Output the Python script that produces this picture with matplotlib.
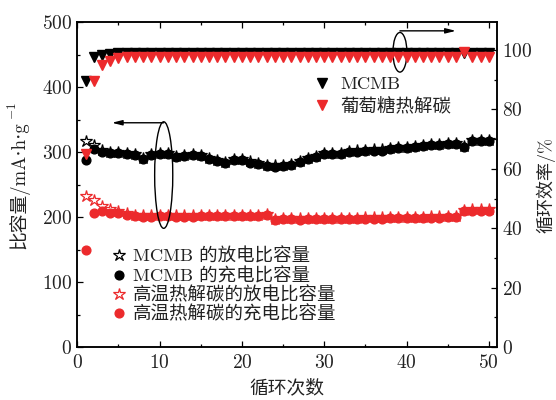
import matplotlib
matplotlib.use("Agg")
import matplotlib.pyplot as plt
from matplotlib.patches import Ellipse
from matplotlib.lines import Line2D
from matplotlib.ticker import MultipleLocator

plt.rcParams['font.family'] = ['cmr10', 'DejaVu Serif', 'Noto Sans CJK SC']
plt.rcParams['mathtext.fontset'] = 'cm'
plt.rcParams['axes.formatter.use_mathtext'] = True

cycles = list(range(1, 51))

mcmb_charge = [288, 305, 301, 298.5, 298.5, 297.4, 295.4, 290.3, 296.4, 297.4,
               297.4, 293.3, 294.4, 295.4, 294.4, 290.3, 286.2, 283.1, 288.2, 288.2,
               284.1, 282.1, 279, 278, 279, 280, 285.1, 289.2, 293.3, 297.4,
               297.4, 297.4, 300, 301, 302, 302.6, 302.6, 304.6, 306.7, 306.7,
               307.7, 309.7, 311.3, 311.3, 312.3, 312.8, 307.7, 316.9, 316.9, 317.9]
mcmb_discharge = [317, 311, 303, 300, 300, 299, 297, 292, 298, 299,
                  299, 295, 296, 297, 296, 292, 288, 285, 290, 290,
                  286, 284, 281, 280, 281, 282, 287, 291, 295, 299,
                  299, 299, 302, 303, 304, 304.5, 304.5, 306.5, 308.5, 308.5,
                  309.5, 311.5, 313, 313, 314, 314.5, 309.5, 318.5, 318.5, 319.5]
glu_charge = [149, 207.2, 210.3, 207.2, 206.2, 204.1, 202.1, 201, 201, 202.1,
              202.1, 201, 201, 201, 202.1, 202, 202, 202, 202, 202,
              202, 202, 203, 195.9, 196.9, 196.9, 196.5, 196.9, 196.9, 196.9,
              197, 197, 197.5, 197.5, 198, 198, 198, 198.5, 198.5, 199,
              199, 199, 199.5, 199.5, 200, 200, 210.3, 209.2, 209.2, 210.3]
glu_discharge = [232, 227, 218, 213, 210, 207, 204, 203, 203, 204,
                 204, 203, 203, 203, 204, 204, 204, 204, 204, 204,
                 204, 204, 205, 198, 199, 199, 198.5, 199, 199, 199,
                 199, 199, 199.5, 199.5, 200, 200, 200, 200.5, 200.5, 201,
                 201, 201, 201.5, 201.5, 202, 202, 211, 212, 212, 213]
mcmb_eff = [89.6, 97.6, 98.2, 98.6] + [99.0] * 46
glu_eff = [65, 89.6, 95.0, 96.4, 97.2] + [97.6] * 41 + [99.2, 97.6, 97.6, 97.6]

red = '#ec2a2c'
fig = plt.figure(figsize=(5.56, 4.0), dpi=100)
ax = fig.add_axes([0.139, 0.132, 0.755, 0.812])
ax2 = ax.twinx()

# capacities
ax.plot(cycles, mcmb_discharge, ls='none', marker='*', ms=9, mfc='white', mec='black', mew=0.9, zorder=3)
ax.plot(cycles, mcmb_charge, ls='none', marker='o', ms=6.3, color='black', zorder=4)
ax.plot(cycles, glu_discharge, ls='none', marker='*', ms=9, mfc='white', mec=red, mew=0.9, zorder=3)
ax.plot(cycles, glu_charge, ls='none', marker='o', ms=6.3, color=red, zorder=4)

# efficiencies
ax2.plot(cycles, mcmb_eff, ls='none', marker='v', ms=7.5, color='black')
ax2.plot(cycles, glu_eff, ls='none', marker='v', ms=7.5, color=red)

ax.set_xlim(0, 51)
ax.set_ylim(0, 500)
ax2.set_ylim(0, 109.3)

ax.xaxis.set_major_locator(MultipleLocator(10))
ax.xaxis.set_minor_locator(MultipleLocator(5))
ax.yaxis.set_major_locator(MultipleLocator(100))
ax.yaxis.set_minor_locator(MultipleLocator(50))
ax2.yaxis.set_major_locator(MultipleLocator(20))
ax2.yaxis.set_minor_locator(MultipleLocator(10))

tc = '#222222'
ax.tick_params(which='both', direction='in', top=True, labelsize=14, labelcolor=tc)
ax.tick_params(which='major', length=4.5, width=0.9)
ax.tick_params(which='minor', length=2.5, width=0.9)
ax.tick_params(axis='x', pad=5)
ax2.tick_params(which='both', direction='in', labelsize=14, labelcolor=tc)
ax2.tick_params(which='major', length=4.5, width=0.9)
ax2.tick_params(which='minor', length=2.5, width=0.9)
for a in (ax, ax2):
    for s in a.spines.values():
        s.set_linewidth(1.1)

ax.set_xlabel('循环次数', fontsize=13.5, color=tc, labelpad=5)
lab = ax.set_ylabel('比容量/mA\u22c5h\u22c5g', fontsize=13.5, color=tc, labelpad=9,
                    family=['cmr10', 'DejaVu Serif', 'Noto Sans CJK SC'])
ax.annotate('$-1$', xy=(0.5, 1.0), xycoords=lab, xytext=(-4.5, 0.5), textcoords='offset points',
            rotation=90, ha='center', va='bottom', fontsize=9.5, color=tc, annotation_clip=False)
ax2.set_ylabel('循环效率/%', fontsize=13, color=tc, labelpad=3)

# ellipses and arrows
ax.add_patch(Ellipse((10.5, 265), 2.2, 164, fill=False, ec='black', lw=1.0, zorder=6))
ax.annotate('', xy=(4.2, 345.5), xytext=(10.5, 345.5),
            arrowprops=dict(arrowstyle='-|>,head_length=0.6,head_width=0.15', color='black', lw=1.0,
                            shrinkA=0, shrinkB=0), zorder=6)
ax.add_patch(Ellipse((39.2, 454), 1.7, 61, fill=False, ec='black', lw=1.0, zorder=6))
ax.annotate('', xy=(46, 487), xytext=(39.2, 487),
            arrowprops=dict(arrowstyle='-|>,head_length=0.6,head_width=0.15', color='black', lw=1.0,
                            shrinkA=0, shrinkB=0), zorder=6)

# legends
h1 = [Line2D([], [], ls='none', marker='v', ms=7.5, color='black'),
      Line2D([], [], ls='none', marker='v', ms=7.5, color=red)]
leg1 = ax2.legend(h1, ['MCMB', '葡萄糖热解碳'], loc='upper left', frameon=False,
                  bbox_to_anchor=(0.535, 0.862), fontsize=13.3, handletextpad=0.4,
                  labelspacing=0.25, handlelength=1.2, borderpad=0)
for t in leg1.get_texts():
    t.set_color(tc)

h2 = [Line2D([], [], ls='none', marker='*', ms=9, mfc='white', mec='black', mew=0.9),
      Line2D([], [], ls='none', marker='o', ms=6.3, color='black'),
      Line2D([], [], ls='none', marker='*', ms=9, mfc='white', mec=red, mew=0.9),
      Line2D([], [], ls='none', marker='o', ms=6.3, color=red)]
leg2 = ax.legend(h2, ['MCMB 的放电比容量', 'MCMB 的充电比容量', '高温热解碳的放电比容量', '高温热解碳的充电比容量'],
                 loc='upper left', frameon=False, bbox_to_anchor=(0.055, 0.335), fontsize=13.3,
                 handletextpad=0.25, labelspacing=0.1, handlelength=1.0, borderpad=0)
for t in leg2.get_texts():
    t.set_color(tc)

fig.savefig('out.png', dpi=100)
